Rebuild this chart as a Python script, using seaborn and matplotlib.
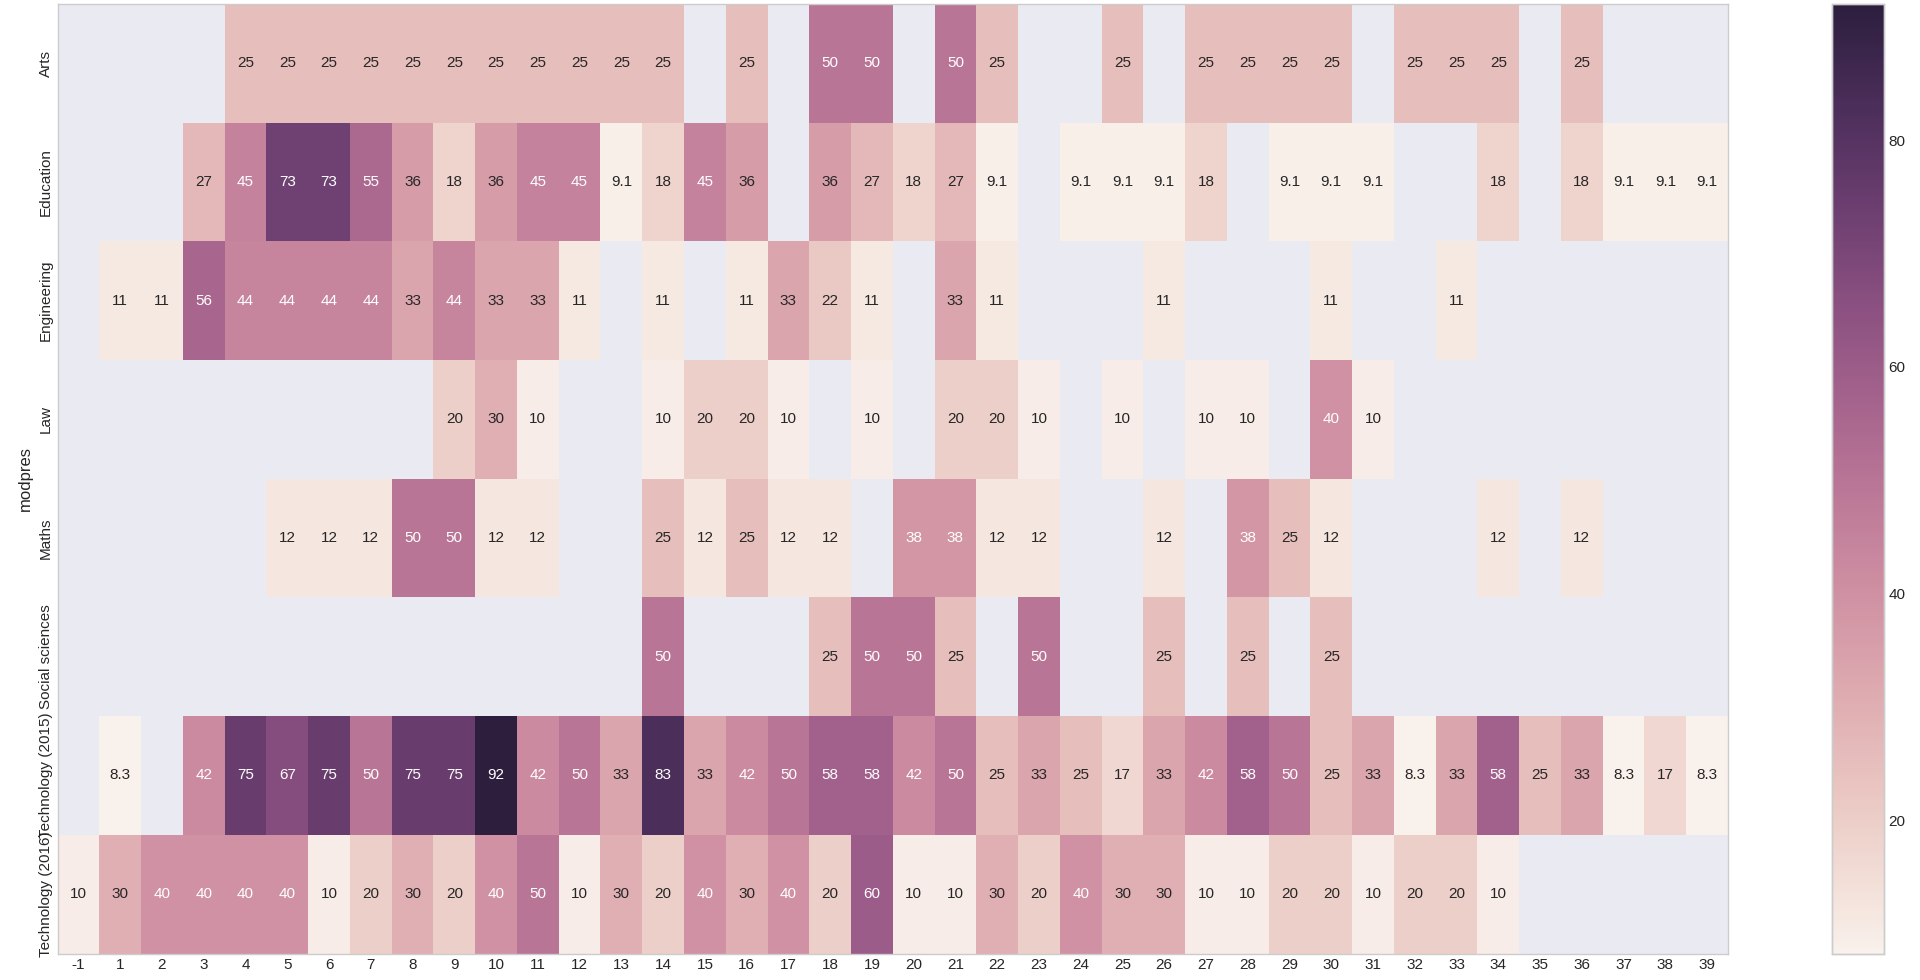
import matplotlib
matplotlib.use("Agg")
import matplotlib.pyplot as plt
import numpy as np
import pandas as pd
import seaborn as sns

nan = np.nan

# column labels (no 0 in the data)
years = [-1] + list(range(1, 40))

modpres = [
    "Arts",
    "Education",
    "Engineering",
    "Law",
    "Maths",
    "Social sciences",
    "Technology (2015)",
    "Technology (2016)",
]

# values, one list per row, in column order -1, 1, 2, ... 39
arts = [nan, nan, nan, nan, 25, 25, 25, 25, 25, 25,
        25, 25, 25, 25, 25, nan, 25, nan, 50, 50,
        nan, 50, 25, nan, nan, 25, nan, 25, 25, 25,
        25, nan, 25, 25, 25, nan, 25, nan, nan, nan]
education = [nan, nan, nan, 27, 45, 73, 73, 55, 36, 18,
             36, 45, 45, 9.1, 18, 45, 36, nan, 36, 27,
             18, 27, 9.1, nan, 9.1, 9.1, 9.1, 18, nan, 9.1,
             9.1, 9.1, nan, nan, 18, nan, 18, 9.1, 9.1, 9.1]
engineering = [nan, 11, 11, 56, 44, 44, 44, 44, 33, 44,
               33, 33, 11, nan, 11, nan, 11, 33, 22, 11,
               nan, 33, 11, nan, nan, nan, 11, nan, nan, nan,
               11, nan, nan, 11, nan, nan, nan, nan, nan, nan]
law = [nan, nan, nan, nan, nan, nan, nan, nan, nan, 20,
       30, 10, nan, nan, 10, 20, 20, 10, nan, 10,
       nan, 20, 20, 10, nan, 10, nan, 10, 10, nan,
       40, 10, nan, nan, nan, nan, nan, nan, nan, nan]
maths = [nan, nan, nan, nan, nan, 12, 12, 12, 50, 50,
         12, 12, nan, nan, 25, 12, 25, 12, 12, nan,
         38, 38, 12, 12, nan, nan, 12, nan, 38, 25,
         12, nan, nan, nan, 12, nan, 12, nan, nan, nan]
social_sciences = [nan, nan, nan, nan, nan, nan, nan, nan, nan, nan,
                   nan, nan, nan, nan, 50, nan, nan, nan, 25, 50,
                   50, 25, nan, 50, nan, nan, 25, nan, 25, nan,
                   25, nan, nan, nan, nan, nan, nan, nan, nan, nan]
tech_2015 = [nan, 8.3, nan, 42, 75, 67, 75, 50, 75, 75,
             92, 42, 50, 33, 83, 33, 42, 50, 58, 58,
             42, 50, 25, 33, 25, 17, 33, 42, 58, 50,
             25, 33, 8.3, 33, 58, 25, 33, 8.3, 17, 8.3]
tech_2016 = [10, 30, 40, 40, 40, 40, 10, 20, 30, 20,
             40, 50, 10, 30, 20, 40, 30, 40, 20, 60,
             10, 10, 30, 20, 40, 30, 30, 10, 10, 20,
             20, 10, 20, 20, 10, nan, nan, nan, nan, nan]

table = pd.DataFrame(
    [arts, education, engineering, law, maths, social_sciences, tech_2015, tech_2016],
    index=pd.Index(modpres, name="modpres"),
    columns=years,
)

sns.set_style("darkgrid")
plt.rcParams["font.family"] = ["Liberation Sans", "DejaVu Sans"]

fig = plt.figure(figsize=(19.2, 9.8), dpi=100)
ax = fig.add_axes([0.030, 0.027, 0.870, 0.969])
cax = fig.add_axes([0.954, 0.027, 0.027, 0.969])

sns.heatmap(
    table,
    cmap=sns.cubehelix_palette(light=.95, as_cmap=True),
    annot=True,
    annot_kws={"fontsize": 11},
    ax=ax,
    cbar_ax=cax,
)

ax.grid(False)
ax.set_facecolor("#EAEAF2")
ax.set_xlabel("")
ax.set_ylabel("modpres", fontsize=12)
ax.tick_params(axis="both", length=0, labelsize=11, colors="#262626")
ax.tick_params(axis="x", rotation=0)
ax.tick_params(axis="y", rotation=90)
for lab in ax.get_yticklabels():
    lab.set_va("center")
for spine in ax.spines.values():
    spine.set_visible(True)
    spine.set_color("#CCCCCC")
    spine.set_linewidth(1)

cax.tick_params(length=0, labelsize=11, colors="#262626")
cax.set_yticks([20, 40, 60, 80])
for spine in cax.spines.values():
    spine.set_visible(True)
    spine.set_color("#CCCCCC")
    spine.set_linewidth(1)

fig.savefig("out.png", dpi=100)
plt.close(fig)
